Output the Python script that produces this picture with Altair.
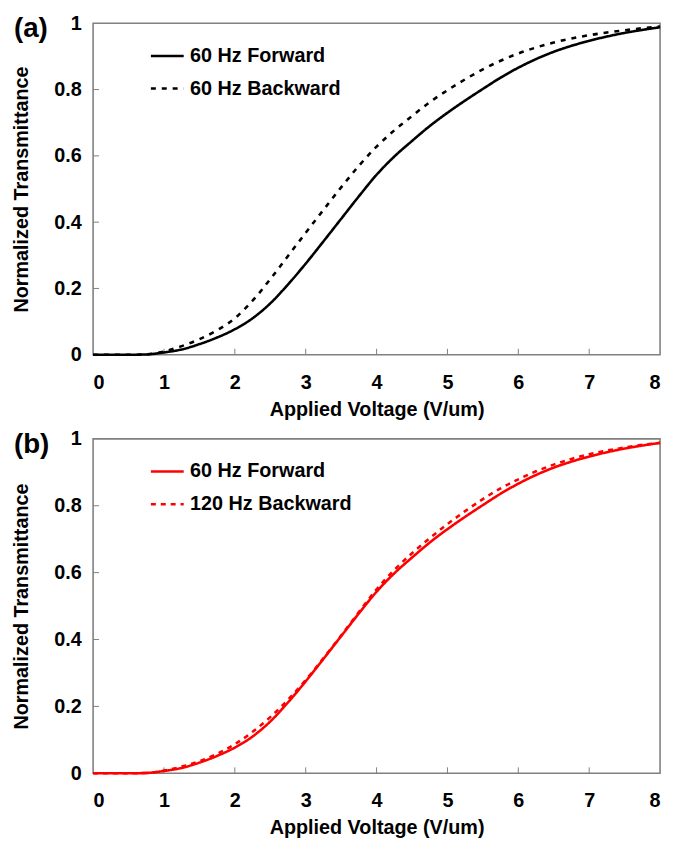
import altair as alt
import pandas as pd

voltage = [0, 0.25, 0.5, 0.75, 1, 1.25, 1.5, 1.75, 2, 2.25, 2.5, 2.75, 3, 3.25, 3.5, 3.75,
           4, 4.25, 4.5, 4.75, 5, 5.25, 5.5, 5.75, 6, 6.25, 6.5, 6.75, 7, 7.25, 7.5, 7.75, 8]

fwd_60 = [0, 0, 0, 0.001, 0.007, 0.016, 0.032, 0.052, 0.077, 0.11, 0.155, 0.212, 0.275, 0.342,
          0.41, 0.478, 0.543, 0.598, 0.645, 0.69, 0.73, 0.767, 0.802, 0.836, 0.866, 0.892, 0.914,
          0.932, 0.947, 0.96, 0.971, 0.98, 0.988]

bwd_60 = [0, 0, 0, 0.001, 0.01, 0.026, 0.047, 0.074, 0.11, 0.163, 0.228, 0.298, 0.368, 0.437,
          0.505, 0.57, 0.628, 0.677, 0.72, 0.762, 0.798, 0.831, 0.861, 0.887, 0.909, 0.927, 0.942,
          0.954, 0.964, 0.972, 0.979, 0.985, 0.99]

bwd_120 = [0, 0, 0, 0.001, 0.008, 0.02, 0.036, 0.058, 0.087, 0.124, 0.168, 0.22, 0.279, 0.344,
           0.412, 0.482, 0.55, 0.608, 0.658, 0.703, 0.745, 0.784, 0.82, 0.852, 0.879, 0.903,
           0.923, 0.94, 0.954, 0.965, 0.974, 0.982, 0.988]

x_ticks = [1, 2, 3, 4, 5, 6, 7]
y_ticks = [0.2, 0.4, 0.6, 0.8]

FONT = "Liberation Sans"
W = 573


def panel(label, names, series, colors, dashes, height):
    rows = []
    for name, vals in zip(names, series):
        for v, t in zip(voltage, vals):
            rows.append({"voltage": v, "T": t, "series": name})
    df = pd.DataFrame(rows)

    xs = alt.Scale(domain=[0, 8], nice=False)
    ys = alt.Scale(domain=[0, 1], nice=False)

    lines = alt.Chart(df).mark_line(strokeWidth=2.6, interpolate="monotone").encode(
        x=alt.X("voltage:Q", scale=xs,
                axis=alt.Axis(title="Applied Voltage (V/um)", values=list(range(9)),
                              format="d", grid=False, ticks=False, tickSize=0, domain=False,
                              labelPadding=18, titlePadding=7)),
        y=alt.Y("T:Q", scale=ys,
                axis=alt.Axis(title="Normalized Transmittance", values=[0, 0.2, 0.4, 0.6, 0.8, 1],
                              format="~g", grid=False, ticks=False, tickSize=0, domain=False,
                              labelPadding=12, titlePadding=22)),
        color=alt.Color("series:N", scale=alt.Scale(domain=names, range=colors),
                        legend=alt.Legend(title=None, orient="none", legendX=57, legendY=15)),
        strokeDash=alt.StrokeDash("series:N", scale=alt.Scale(domain=names, range=dashes),
                                  legend=alt.Legend(title=None, orient="none", legendX=57, legendY=15)),
        order="voltage:Q",
    )

    xt = alt.Chart(pd.DataFrame({"t": x_ticks})).mark_rule(color="#808080", strokeWidth=1).encode(
        x=alt.X("t:Q", scale=xs), y=alt.value(height), y2=alt.value(height - 6))
    yt = alt.Chart(pd.DataFrame({"t": y_ticks})).mark_rule(color="#808080", strokeWidth=1).encode(
        y=alt.Y("t:Q", scale=ys), x=alt.value(0), x2=alt.value(6))

    lab = alt.Chart(pd.DataFrame({"lab": [label]})).mark_text(
        font=FONT, fontSize=28, fontWeight="bold", align="left", baseline="middle", color="black"
    ).encode(text="lab:N", x=alt.value(-80), y=alt.value(6))

    return alt.layer(xt, yt, lines, lab).properties(width=W, height=height)


a = panel("(a)", ["60 Hz Forward", "60 Hz Backward"], [fwd_60, bwd_60],
          ["black", "black"], [[1, 0], [5, 6]], 335)
b = panel("(b)", ["60 Hz Forward", "120 Hz Backward"], [fwd_60, bwd_120],
          ["#ff0000", "#ff0000"], [[1, 0], [5, 5]], 338)

chart = alt.vconcat(a, b, spacing=8).resolve_scale(
    color="independent", strokeDash="independent"
).resolve_legend(color="independent", strokeDash="independent").properties(
    padding={"left": 3, "top": 0, "right": 0, "bottom": 0}
).configure_view(
    stroke="#808080", strokeWidth=1.6
).configure_axis(
    labelFont=FONT, titleFont=FONT, labelFontSize=20, titleFontSize=20,
    labelFontWeight="bold", titleFontWeight="bold", labelColor="black", titleColor="black"
).configure_legend(
    labelFont=FONT, labelFontSize=20, labelFontWeight="bold", labelColor="black",
    symbolType="stroke", symbolSize=1100, symbolStrokeWidth=2.6, rowPadding=5,
    labelOffset=5, padding=0, labelLimit=400
)

chart.save("out.html", embed_options={"renderer": "svg", "actions": False})
